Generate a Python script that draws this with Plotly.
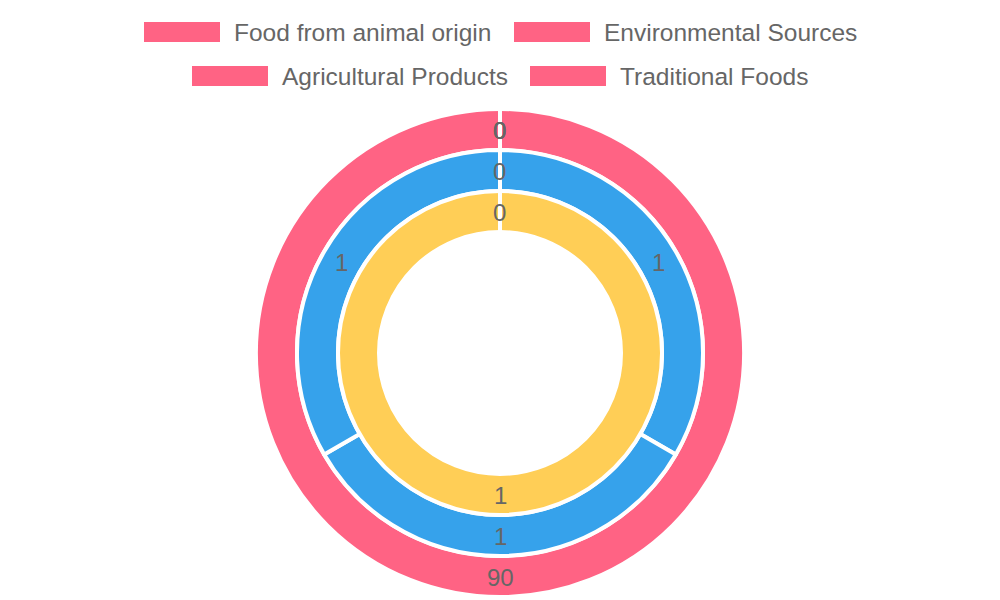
import math
import plotly.graph_objects as go

# ---- data ----
categories = ["Food from animal origin", "Environmental Sources",
              "Agricultural Products", "Traditional Foods"]
outer_values = [90, 0, 0, 0]
middle_values = [1, 1, 1, 0]
inner_values = [1, 0, None, None]
ring_values = [outer_values, middle_values, inner_values]
ring_names = ["Dataset 1", "Dataset 2", "Dataset 3"]
ring_colors = ["#FF6384", "#36A2EB", "#FFCE56"]

# ---- geometry / style ----
W, H = 1000, 600
CX, CY = 500, 353
R_OUT = 244
R_HOLE = 121
BORDER = 4
TEXT_COLOR = "#666666"
FONT = "Liberation Sans, Arial, Helvetica, sans-serif"
LABEL_DY = 1.0      # datalabel vertical nudge

step = (R_OUT - R_HOLE) / len(ring_values)

fig = go.Figure()
annotations = []

for i, (vals, name, color) in enumerate(zip(ring_values, ring_names, ring_colors)):
    r_o = R_OUT - i * step
    r_i = r_o - step
    fig.add_trace(go.Pie(
        labels=categories,
        values=vals,
        name=name,
        sort=False,
        direction="clockwise",
        rotation=0,
        hole=r_i / r_o,
        marker=dict(colors=[color] * len(vals), line=dict(color="white", width=BORDER)),
        textinfo="none",
        showlegend=False,
        domain=dict(x=[(CX - r_o) / W, (CX + r_o) / W],
                    y=[1 - (CY + r_o) / H, 1 - (CY - r_o) / H]),
    ))
    present = [v for v in vals if v is not None]
    total = sum(present)
    cum = 0.0
    r_mid = (r_o + r_i) / 2
    for v in present:
        mid = (cum + v / 2) / total * 2 * math.pi
        cum += v
        px = CX + r_mid * math.sin(mid)
        py = CY + LABEL_DY - r_mid * math.cos(mid)
        annotations.append(dict(
            x=px / W, y=1 - py / H, xref="paper", yref="paper",
            text=str(v), showarrow=False, xanchor="center", yanchor="middle",
            font=dict(size=24, color=TEXT_COLOR, family=FONT)))

# ---- legend (Chart.js style, two centred rows) ----
legend_rows = [[0, 1], [2, 3]]
row_box_left = [[144, 514], [192, 530]]
row_top = [22, 66]
BOX_W, BOX_H = 76, 20
shapes = []
for row, lefts, top in zip(legend_rows, row_box_left, row_top):
    for idx, left in zip(row, lefts):
        shapes.append(dict(type="rect", xref="paper", yref="paper",
                           x0=left / W, x1=(left + BOX_W) / W,
                           y0=1 - (top + BOX_H) / H, y1=1 - top / H,
                           fillcolor=ring_colors[0], line=dict(width=0)))
        annotations.append(dict(
            x=(left + BOX_W + 12) / W, y=1 - (top + BOX_H / 2) / H,
            xref="paper", yref="paper", text=categories[idx], showarrow=False,
            xanchor="left", yanchor="middle",
            font=dict(size=24.5, color=TEXT_COLOR, family=FONT)))

fig.update_layout(
    width=W, height=H,
    margin=dict(l=0, r=0, t=0, b=0),
    paper_bgcolor="white", plot_bgcolor="white",
    showlegend=False,
    annotations=annotations,
    shapes=shapes,
)

fig.write_html("out.html")
